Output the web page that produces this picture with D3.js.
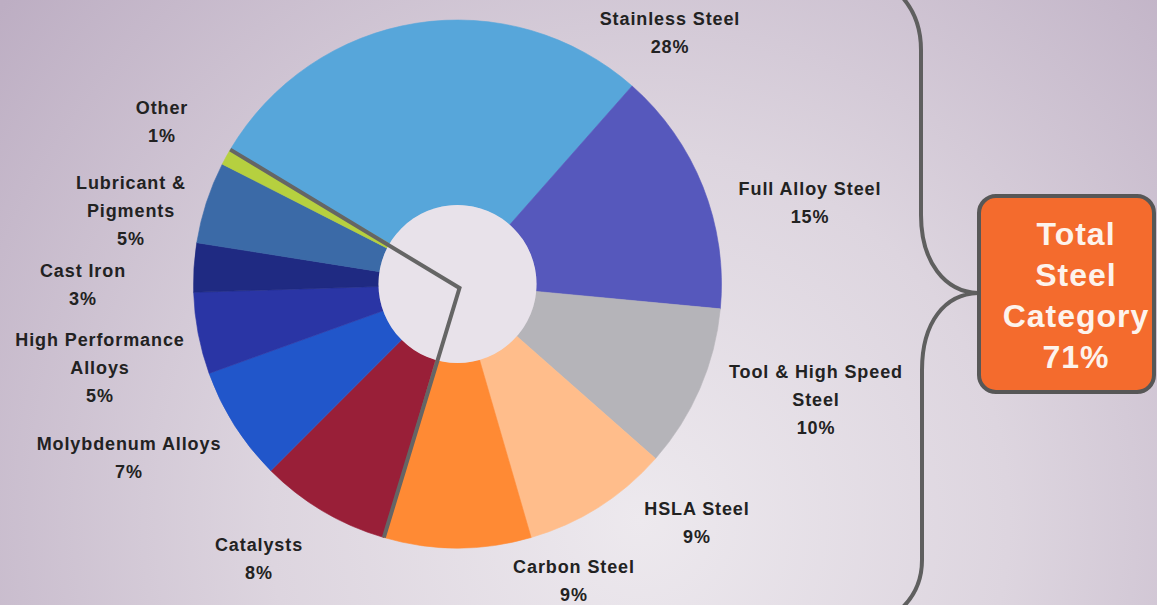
<!DOCTYPE html>
<html>
<head>
<meta charset="utf-8">
<script src="https://cdn.jsdelivr.net/npm/d3@7"></script>
<style>
  html, body { margin: 0; padding: 0; overflow: hidden; }
  svg { display: block; }
</style>
</head>
<body>
<svg id="chart" width="1157" height="605"></svg>
<script>
// Market share by end use, clockwise from the top
const categories = ["Stainless Steel", "Full Alloy Steel", "Tool & High Speed Steel", "HSLA Steel",
  "Carbon Steel", "Catalysts", "Molybdenum Alloys", "High Performance Alloys", "Cast Iron",
  "Lubricant & Pigments", "Other"];
const shares = [28, 15, 10, 9, 9, 8, 7, 5, 3, 5, 1];
const steelCount = 5; // the first five categories are steels

// Label text split over lines
const labelLines = [
  ["Stainless Steel"], ["Full Alloy Steel"], ["Tool & High Speed", "Steel"], ["HSLA Steel"],
  ["Carbon Steel"], ["Catalysts"], ["Molybdenum Alloys"], ["High Performance", "Alloys"],
  ["Cast Iron"], ["Lubricant &", "Pigments"], ["Other"]
];
const boxLines = ["Total", "Steel", "Category"];

// Layout and styling
const sliceColors = ["#57a6da", "#5658bc", "#b5b4b9", "#ffbd8b", "#ff8a34", "#991f38",
  "#2156ca", "#2a35a5", "#1f2a82", "#3b6aa7", "#b6d03f"];
const labelAnchors = [[670, 25], [810, 195], [816, 378], [697, 515], [574, 573], [259, 551],
  [129, 450], [100, 346], [83, 277], [131, 189], [162, 114]];
const W = 1157, H = 605;
const cx = 457.5, cy = 284, rOuter = 264, rInner = 79;
const startDeg = -59.4;
const lineH = 28;

const svg = d3.select("#chart");

// Background wash
const defs = svg.append("defs");
const bg = defs.append("radialGradient").attr("id", "bg")
  .attr("gradientUnits", "userSpaceOnUse")
  .attr("cx", 640).attr("cy", 520).attr("r", 820);
bg.append("stop").attr("offset", "0%").attr("stop-color", "#ede9ee");
bg.append("stop").attr("offset", "45%").attr("stop-color", "#ddd5df");
bg.append("stop").attr("offset", "100%").attr("stop-color", "#bdaec3");
svg.append("rect").attr("width", W).attr("height", H).attr("fill", "url(#bg)");

// Donut
const a0 = startDeg * Math.PI / 180;
const pie = d3.pie().sort(null).value(d => d).startAngle(a0).endAngle(a0 + 2 * Math.PI);
const arcs = pie(shares);
const arc = d3.arc().innerRadius(rInner).outerRadius(rOuter);

const g = svg.append("g").attr("transform", `translate(${cx},${cy})`);
g.selectAll("path.slice").data(arcs).join("path")
  .attr("class", "slice")
  .attr("d", arc)
  .attr("fill", (d, i) => sliceColors[i])
  .attr("stroke", (d, i) => sliceColors[i])
  .attr("stroke-width", 0.6);

g.append("circle").attr("r", rInner).attr("fill", "#e8e2ea");

// Divider around the steel slices
const steelEnd = arcs[steelCount - 1].endAngle;
const divider = [d3.pointRadial(a0, rOuter), [2, 4], d3.pointRadial(steelEnd, rOuter)];
g.append("path")
  .attr("d", d3.line()(divider))
  .attr("fill", "none")
  .attr("stroke", "#656565")
  .attr("stroke-width", 4)
  .attr("stroke-linejoin", "miter");

// Slice labels
const labels = svg.append("g")
  .attr("font-family", "'Liberation Sans', Arial, sans-serif")
  .attr("font-weight", "bold")
  .attr("font-size", 18)
  .attr("letter-spacing", 0.9)
  .attr("fill", "#222")
  .attr("text-anchor", "middle");
labels.selectAll("text").data(categories).join("text")
  .attr("x", (d, i) => labelAnchors[i][0])
  .attr("y", (d, i) => labelAnchors[i][1])
  .each(function (d, i) {
    const lines = labelLines[i].concat([`${shares[i]}%`]);
    d3.select(this).selectAll("tspan").data(lines).join("tspan")
      .attr("x", labelAnchors[i][0])
      .attr("dy", (t, j) => j === 0 ? 0 : lineH)
      .text(t => t);
  });

// Brace gathering the steel slices
const brace = d3.path();
brace.moveTo(903, -2);
brace.bezierCurveTo(915, 12, 921, 28, 921, 50);
brace.lineTo(921, 215);
brace.bezierCurveTo(921, 262, 945, 292, 978, 293);
brace.bezierCurveTo(945, 294, 922, 322, 922, 370);
brace.lineTo(922, 560);
brace.bezierCurveTo(922, 580, 915, 595, 903, 607);
svg.append("path").attr("d", brace.toString())
  .attr("fill", "none").attr("stroke", "#5f5f5f").attr("stroke-width", 4);

// Steel total box
const steelTotal = d3.sum(shares.slice(0, steelCount));
svg.append("rect")
  .attr("x", 979).attr("y", 196).attr("width", 175).attr("height", 196)
  .attr("rx", 17).attr("ry", 17)
  .attr("fill", "#f46b2d").attr("stroke", "#575757").attr("stroke-width", 4);
const boxText = svg.append("text")
  .attr("x", 1076).attr("y", 245)
  .attr("font-family", "'Liberation Sans', Arial, sans-serif")
  .attr("font-weight", "bold").attr("font-size", 32).attr("letter-spacing", 1)
  .attr("fill", "#fdf3ec").attr("text-anchor", "middle");
boxText.selectAll("tspan").data(boxLines.concat([`${steelTotal}%`])).join("tspan")
  .attr("x", 1076)
  .attr("dy", (t, j) => j === 0 ? 0 : 41)
  .text(t => t);
</script>
</body>
</html>
